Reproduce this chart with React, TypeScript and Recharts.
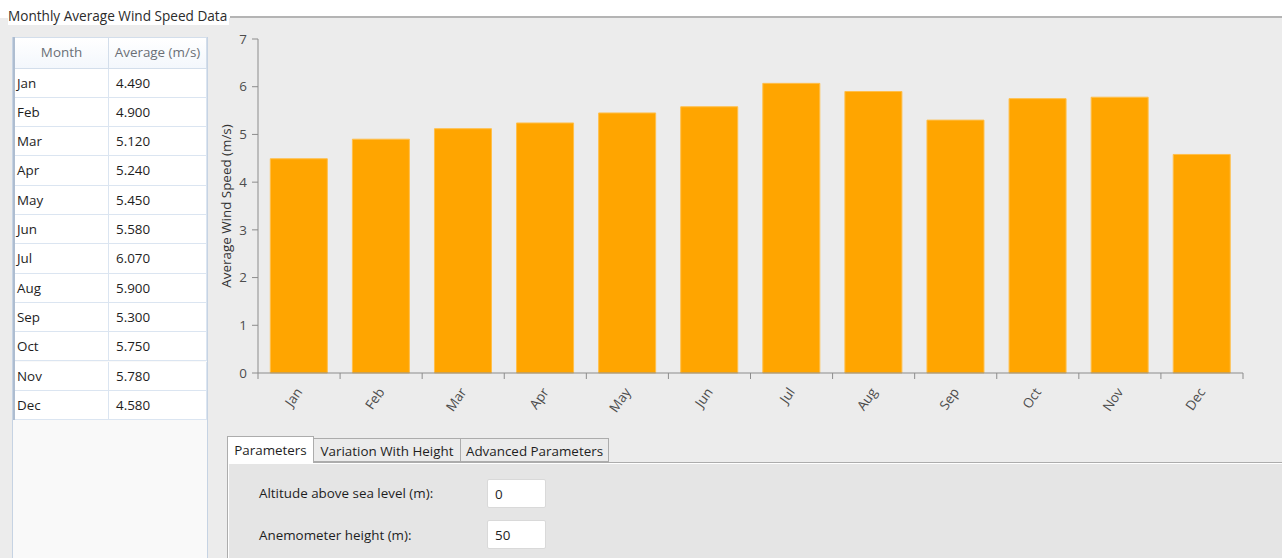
import React from "react";
import { BarChart, Bar, XAxis, YAxis } from "recharts";

// Monthly average wind speed (m/s)
const months = ["Jan", "Feb", "Mar", "Apr", "May", "Jun", "Jul", "Aug", "Sep", "Oct", "Nov", "Dec"];
const avgSpeed = [4.49, 4.9, 5.12, 5.24, 5.45, 5.58, 6.07, 5.9, 5.3, 5.75, 5.78, 4.58];
const yTicks = [0, 1, 2, 3, 4, 5, 6, 7];
const tableHeaders = ["Month", "Average (m/s)"];
const tabNames = ["Parameters", "Variation With Height", "Advanced Parameters"];
const paramLabels = ["Altitude above sea level (m):", "Anemometer height (m):"];
const paramValues = ["0", "50"];

const rows = months.map((m, i) => ({ month: m, avg: avgSpeed[i] }));

const FONT = '"Open Sans", "Noto Sans", sans-serif';
const AXIS = "#8c8c8c";

// Category tick: label rotated, tick marks on the band boundaries
const MonthTick = (props: any) => {
  const { x, y, payload, index, visibleTicksCount } = props;
  const off = payload && payload.offset ? payload.offset : 0;
  const last = index === visibleTicksCount - 1;
  const tx = x + 4;
  const ty = y + 19;
  return (
    <g>
      <line x1={x - off} x2={x - off} y1={y} y2={y + 6} stroke={AXIS} strokeWidth={1} />
      {last && <line x1={x + off} x2={x + off} y1={y} y2={y + 6} stroke={AXIS} strokeWidth={1} />}
      <text
        x={tx}
        y={ty}
        textAnchor="end"
        fill="#4d4d4d"
        fontSize={13.4}
        fontFamily={FONT}
        transform={`rotate(-55, ${tx}, ${ty})`}
      >
        {payload.value}
      </text>
    </g>
  );
};

const ROW_H = 29.3;
const ROW_TOP = 68.5;

export default function App() {
  return (
    <div
      style={{
        position: "absolute",
        left: 0,
        top: 0,
        width: 1282,
        height: 558,
        background: "#ececec",
        overflow: "hidden",
        fontFamily: FONT,
        fontSize: 13.4,
        color: "#1e1e1e",
      }}
    >
      {/* group box header strip */}
      <div style={{ position: "absolute", left: 0, top: 0, width: 1282, height: 18, background: "#ffffff" }} />
      <div style={{ position: "absolute", left: 230, top: 16, width: 1052, height: 2, background: "#b4b4b4" }} />
      <div
        style={{
          position: "absolute",
          left: 8,
          top: 7,
          lineHeight: "18px",
          whiteSpace: "nowrap",
          background: "#ffffff",
          paddingRight: 2,
          color: "#2b2b2b",
          fontSize: 13.6,
        }}
      >
        Monthly Average Wind Speed Data
      </div>

      {/* data grid */}
      <div
        style={{
          position: "absolute",
          left: 12,
          top: 37,
          width: 196,
          height: 521,
          background: "#f9f9f9",
          borderLeft: "1px solid #c6d3e3",
          borderRight: "1px solid #c6d3e3",
          boxSizing: "border-box",
        }}
      />
      <div style={{ position: "absolute", left: 13, top: 37, width: 2, height: 383, background: "#aebdd0" }} />
      {tableHeaders.map((h, c) => (
        <div
          key={h}
          style={{
            position: "absolute",
            left: c === 0 ? 15 : 109,
            top: 37,
            width: c === 0 ? 94 : 98,
            height: ROW_TOP - 37,
            lineHeight: `${ROW_TOP - 39}px`,
            textAlign: "center",
            background: "linear-gradient(#ffffff, #f3f7fc)",
            borderRight: "1px solid #d3deeb",
            borderBottom: "1px solid #d3deeb",
            borderTop: "1px solid #d3deeb",
            boxSizing: "border-box",
            color: "#6a6f76",
            whiteSpace: "nowrap",
          }}
        >
          {h}
        </div>
      ))}
      {rows.map((r, i) => (
        <React.Fragment key={r.month}>
          <div
            style={{
              position: "absolute",
              left: 15,
              top: ROW_TOP + i * ROW_H,
              width: 94,
              height: ROW_H,
              lineHeight: `${ROW_H}px`,
              paddingLeft: 2,
              background: "#ffffff",
              borderRight: "1px solid #dbe5f1",
              borderBottom: "1px solid #dbe5f1",
              boxSizing: "border-box",
            }}
          >
            {r.month}
          </div>
          <div
            style={{
              position: "absolute",
              left: 109,
              top: ROW_TOP + i * ROW_H,
              width: 98,
              height: ROW_H,
              lineHeight: `${ROW_H}px`,
              paddingLeft: 7,
              background: "#ffffff",
              borderRight: "1px solid #dbe5f1",
              borderBottom: "1px solid #dbe5f1",
              boxSizing: "border-box",
            }}
          >
            {r.avg.toFixed(3)}
          </div>
        </React.Fragment>
      ))}

      {/* chart */}
      <div style={{ position: "absolute", left: 210, top: 25 }}>
        <BarChart
          width={1050}
          height={410}
          data={rows}
          margin={{ top: 14, right: 17, bottom: 0, left: 0 }}
          barCategoryGap="15%"
        >
          <XAxis
            dataKey="month"
            height={62}
            interval={0}
            tickLine={false}
            tickSize={0}
            tickMargin={0}
            stroke={AXIS}
            tick={<MonthTick />}
          />
          <YAxis
            width={48}
            domain={[0, 7]}
            ticks={yTicks}
            interval={0}
            tickSize={6}
            tickMargin={5}
            stroke={AXIS}
            tick={{ fill: "#4d4d4d", fontSize: 13.4, fontFamily: FONT }}
            label={{
              value: "Average Wind Speed (m/s)",
              angle: -90,
              position: "insideLeft",
              offset: 16,
              style: { textAnchor: "middle", fill: "#333333", fontSize: 13.4, fontFamily: FONT },
            }}
          />
          <Bar dataKey="avg" fill="#ffa500" stroke="#ffbf4a" strokeWidth={1} isAnimationActive={false} />
        </BarChart>
      </div>

      {/* tabs */}
      {tabNames.map((t, i) => {
        const lefts = [227, 313, 460];
        const widths = [87, 148, 149];
        const sel = i === 0;
        return (
          <div
            key={t}
            style={{
              position: "absolute",
              left: lefts[i],
              top: sel ? 436 : 438,
              width: widths[i],
              height: sel ? 27 : 24,
              lineHeight: sel ? "27px" : "24px",
              textAlign: "center",
              background: sel ? "#ffffff" : "#ebebeb",
              border: "1px solid #acacac",
              borderBottom: sel ? "none" : "1px solid #acacac",
              boxSizing: "border-box",
              zIndex: sel ? 2 : 1,
              color: "#1e1e1e",
              whiteSpace: "nowrap",
            }}
          >
            {t}
          </div>
        );
      })}
      <div
        style={{
          position: "absolute",
          left: 227,
          top: 462,
          width: 1060,
          height: 100,
          background: "#e5e5e5",
          border: "1px solid #acacac",
          boxShadow: "inset 1px 1px 0 #ffffff",
          boxSizing: "border-box",
        }}
      />
      {paramLabels.map((p, i) => (
        <React.Fragment key={p}>
          <div style={{ position: "absolute", left: 259, top: 484 + i * 42, lineHeight: "18px", whiteSpace: "nowrap" }}>
            {p}
          </div>
          <div
            style={{
              position: "absolute",
              left: 487,
              top: 479 + i * 41,
              width: 59,
              height: 29,
              lineHeight: "29px",
              paddingLeft: 7,
              background: "#ffffff",
              border: "1px solid #d9d9d9",
              borderRadius: 2,
              boxSizing: "border-box",
            }}
          >
            {paramValues[i]}
          </div>
        </React.Fragment>
      ))}
    </div>
  );
}
